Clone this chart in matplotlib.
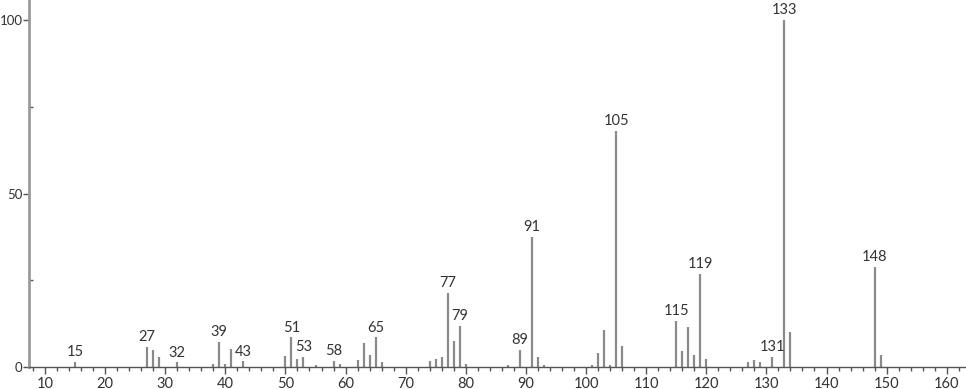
import matplotlib
matplotlib.use("Agg")
import matplotlib.pyplot as plt
from matplotlib.ticker import MultipleLocator

mz = [15, 27, 28, 29, 32, 38, 39, 40, 41, 43, 50, 51, 52, 53, 55,
      58, 59, 62, 63, 64, 65, 66, 74, 75, 76, 77, 78, 79, 80, 87,
      89, 91, 92, 93, 101, 102, 103, 104, 105, 106, 115, 116, 117, 118, 119,
      120, 127, 128, 129, 131, 133, 134, 148, 149]
intensity = [1.5, 5.7, 4.9, 3.0, 1.3, 1.0, 7.2, 0.9, 5.1, 1.6, 3.2, 8.5, 2.3, 2.9, 0.6,
             1.8, 0.8, 2.0, 6.8, 3.4, 8.5, 1.3, 1.8, 2.3, 2.9, 21.4, 7.5, 11.9, 0.9, 0.7,
             5.0, 37.4, 2.9, 0.7, 0.7, 4.1, 10.7, 0.7, 68.1, 6.1, 13.3, 4.6, 11.4, 3.4, 26.8,
             2.2, 1.3, 2.0, 1.3, 2.8, 100.0, 10.1, 28.9, 3.4]
labelled = [15, 27, 32, 39, 43, 51, 53, 58, 65, 77, 79, 89, 91, 105, 115, 119, 131, 133, 148]
x_major = [10, 20, 30, 40, 50, 60, 70, 80, 90, 100, 110, 120, 130, 140, 150, 160]
y_major = [0, 50, 100]

plt.rcParams['font.family'] = ['Lato', 'DejaVu Sans']

fig = plt.figure(figsize=(9.66, 3.89), dpi=100)
ax = fig.add_axes([0.030, 0.0566, 0.970, 0.9434])

ax.vlines(mz, 0, intensity, colors='#8a8a8a', linewidth=1.6)

lookup = dict(zip(mz, intensity))
for m in labelled:
    ax.annotate(str(m), (m, lookup[m]), xytext=(0, 2), textcoords='offset points',
                ha='center', va='bottom', fontsize=10.5, color='#333333')

ax.set_xlim(7.34, 163.2)
ax.set_ylim(0, 105.8)
ax.set_xticks(x_major)
ax.set_yticks(y_major)
ax.xaxis.set_minor_locator(MultipleLocator(2))
ax.yaxis.set_minor_locator(MultipleLocator(25))

for s in ['top', 'right']:
    ax.spines[s].set_visible(False)
ax.spines['left'].set_color('#9a9a9a')
ax.spines['left'].set_linewidth(2)
ax.spines['bottom'].set_color('#555555')
ax.spines['bottom'].set_linewidth(1)

ax.tick_params(axis='x', which='major', length=5, width=1, color='#555555',
               labelsize=10.5, pad=2, labelcolor='#333333')
ax.tick_params(axis='x', which='minor', length=3, width=1, color='#555555')
ax.tick_params(axis='y', which='major', length=4, width=1, color='#555555',
               labelsize=9.5, pad=0.5, labelcolor='#333333')
ax.tick_params(axis='y', which='minor', length=3, width=1, color='#555555', direction='in')

fig.savefig('out.png', dpi=100)
